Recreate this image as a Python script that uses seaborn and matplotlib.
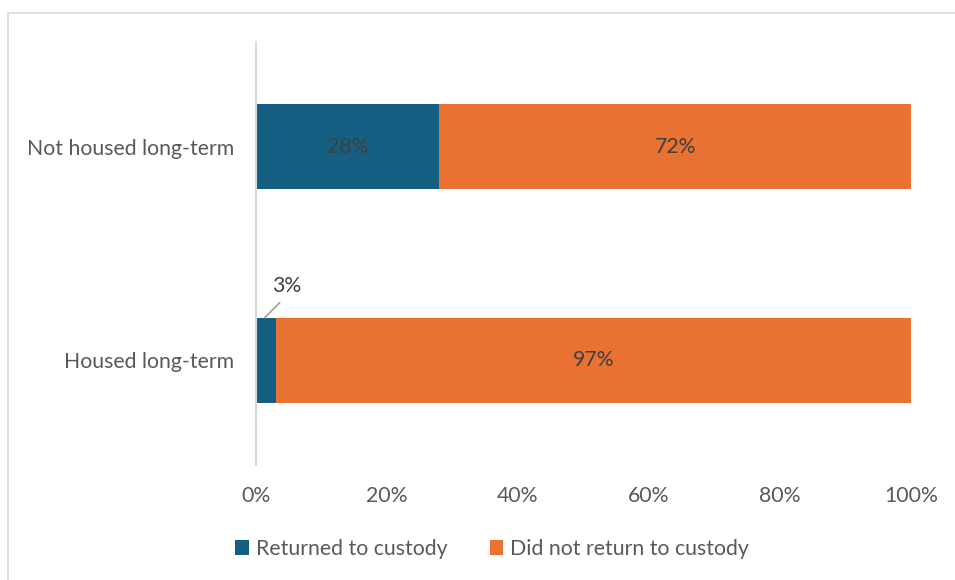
import matplotlib
matplotlib.use("Agg")
import matplotlib.pyplot as plt
import seaborn as sns
import pandas as pd
from matplotlib.patches import Patch, Rectangle

# Share of people who returned to custody, by housing outcome
categories = ["Not housed long-term", "Housed long-term"]
returned = [28, 3]
not_returned = [72, 97]
series_names = ["Returned to custody", "Did not return to custody"]
x_ticks = [0, 20, 40, 60, 80, 100]
x_tick_labels = ["0%", "20%", "40%", "60%", "80%", "100%"]

BLUE = "#156082"
ORANGE = "#E97132"
TEXT = "#595959"
LABEL = "#404040"
LINE = "#D9D9D9"
FS = 15.3

sns.set_theme(style="white")
plt.rcParams["font.family"] = ["Lato", "DejaVu Sans"]

df = pd.DataFrame({
    "category": categories,
    "returned": returned,
    "total": [r + n for r, n in zip(returned, not_returned)],
})

fig = plt.figure(figsize=(9.55, 5.8), dpi=100)
ax = fig.add_axes([256 / 955, 1 - 465 / 580, (911 - 256) / 955, (465 - 42) / 580])

# Stacked bars: full-length orange first, blue segment over it
sns.barplot(data=df, y="category", x="total", color=ORANGE, width=0.4,
            orient="h", ax=ax, saturation=1, linewidth=0)
sns.barplot(data=df, y="category", x="returned", color=BLUE, width=0.4,
            orient="h", ax=ax, saturation=1, linewidth=0)

ax.set_xlim(0, 100)
ax.set_ylim(1.49, -0.49)
ax.set_xlabel("")
ax.set_ylabel("")
ax.set_xticks(x_ticks)
ax.set_xticklabels(x_tick_labels)
ax.tick_params(axis="x", length=0, pad=15, labelsize=FS, labelcolor=TEXT)
ax.tick_params(axis="y", length=0, pad=16, labelsize=FS, labelcolor=TEXT)
for side in ["top", "right", "bottom"]:
    ax.spines[side].set_visible(False)
ax.spines["left"].set_color(LINE)
ax.spines["left"].set_linewidth(1.5)

# Segment value labels
for i, (r, n) in enumerate(zip(returned, not_returned)):
    if r >= 10:
        ax.text(r / 2, i, f"{r}%", ha="center", va="center", fontsize=FS, color=LABEL)
    else:
        ax.annotate(f"{r}%", xy=(r * 0.45, i - 0.2), xytext=(r + 1.7, i - 0.35),
                    ha="center", va="center", fontsize=FS, color=LABEL,
                    arrowprops=dict(arrowstyle="-", color="#A6A6A6", lw=1.3,
                                    relpos=(0.5, 0.0), shrinkA=4, shrinkB=0))
    ax.text(r + n / 2, i, f"{n}%", ha="center", va="center", fontsize=FS, color=LABEL)

handles = [Patch(facecolor=BLUE, edgecolor="none"), Patch(facecolor=ORANGE, edgecolor="none")]
fig.legend(handles, series_names, loc="center", bbox_to_anchor=(492 / 955, 1 - 549 / 580),
           ncol=2, frameon=False, fontsize=FS, labelcolor=TEXT, handlelength=0.65,
           handleheight=0.65, handletextpad=0.3, columnspacing=2.0)

# Outer chart frame
fig.patches.append(Rectangle((7.5 / 955, -0.05), 1.1, 1 - 12.5 / 580 + 0.05,
                             transform=fig.transFigure, fill=False,
                             edgecolor=LINE, linewidth=1.2))

fig.savefig("out.png", dpi=100, facecolor="white")
